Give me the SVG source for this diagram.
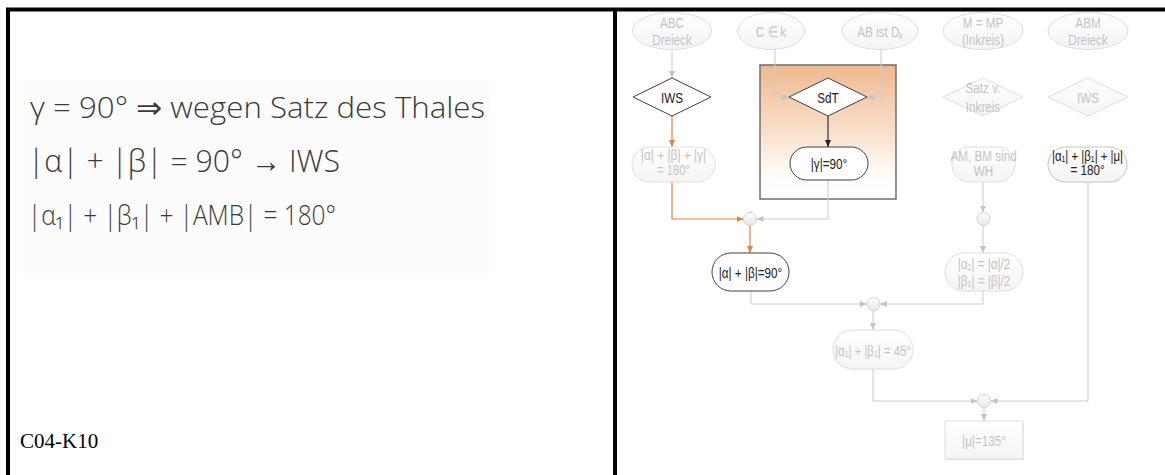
<svg xmlns="http://www.w3.org/2000/svg" width="1165" height="475" viewBox="0 0 1165 475">
  <style>
    .frame { stroke: #000; stroke-width: 4; fill: none; }
    .hand { font-family: "Open Sans", "Liberation Sans", sans-serif; font-weight: 300; fill: #3a3a3a; }
    .tag { font-family: "Liberation Serif", serif; font-size: 21px; fill: #000; }
    .lbl { font-family: "Liberation Sans", Arial, sans-serif; font-size: 15px; text-anchor: middle; }
    .sm { font-size: 14px; }
    .faint { fill: #c4c4c4; }
    .dark { fill: #222; }
    .nfaint { fill: url(#softFill); stroke: #dedede; stroke-width: 1; }
    .ndark { fill: #fff; stroke: #404040; stroke-width: 1; }
    .nmid { fill: url(#softFill); stroke: #c4c4c4; stroke-width: 1; }
    .jn { fill: url(#joinFill); stroke: #d2d2d2; stroke-width: 1; }
    .cg { fill: none; stroke: #cccccc; stroke-width: 1; marker-end: url(#arrGrey); }
    .co { fill: none; stroke: #d9853b; stroke-width: 1.2; marker-end: url(#arrOrange); }
    .ck { fill: none; stroke: #333; stroke-width: 1.2; marker-end: url(#arrBlack); }
  </style>
  <defs>
    <linearGradient id="softFill" x1="0" y1="0" x2="0" y2="1">
      <stop offset="0" stop-color="#ffffff"/>
      <stop offset="1" stop-color="#f4f4f4"/>
    </linearGradient>
    <linearGradient id="joinFill" x1="0" y1="0" x2="0" y2="1">
      <stop offset="0" stop-color="#ffffff"/>
      <stop offset="1" stop-color="#e6e6e6"/>
    </linearGradient>
    <linearGradient id="groupFill" x1="0" y1="0" x2="0" y2="1">
      <stop offset="0" stop-color="#efb88e"/>
      <stop offset="0.45" stop-color="#f8dcc6"/>
      <stop offset="0.8" stop-color="#fefaf6"/>
      <stop offset="1" stop-color="#ffffff"/>
    </linearGradient>
    <marker id="arrGrey" markerWidth="8" markerHeight="6" refX="7" refY="3" orient="auto" markerUnits="userSpaceOnUse">
      <path d="M0,0 L7,3 L0,6 z" fill="#c4c4c4"/>
    </marker>
    <marker id="arrOrange" markerWidth="8" markerHeight="6" refX="7" refY="3" orient="auto" markerUnits="userSpaceOnUse">
      <path d="M0,0 L7,3 L0,6 z" fill="#d9853b"/>
    </marker>
    <marker id="arrBlack" markerWidth="8" markerHeight="6" refX="7" refY="3" orient="auto" markerUnits="userSpaceOnUse">
      <path d="M0,0 L7,3 L0,6 z" fill="#222"/>
    </marker>
  </defs>

  <rect x="0" y="0" width="1165" height="475" fill="#fff"/>

  <!-- left panel: handwritten notes -->
  <g id="notes">
    <rect x="22" y="80" width="468" height="194" fill="#fcfcfc"/>
    <text class="hand" x="30" y="118" font-size="30" textLength="455" lengthAdjust="spacingAndGlyphs">γ = 90° ⇒ wegen Satz des Thales</text>
    <text class="hand" x="28" y="172" font-size="32" textLength="312" lengthAdjust="spacingAndGlyphs">|α| + |β| = 90° → IWS</text>
    <text class="hand" x="28" y="225" font-size="28" textLength="308" lengthAdjust="spacingAndGlyphs">|α₁| + |β₁| + |AMB| = 180°</text>
    <text class="tag" x="20" y="448">C04-K10</text>
  </g>

  <!-- frame -->
  <g id="frame">
    <line class="frame" x1="6" y1="9.5" x2="1165" y2="9.5"/>
    <line class="frame" x1="8" y1="8" x2="8" y2="475"/>
    <line class="frame" x1="615" y1="8" x2="615" y2="475"/>
  </g>

  <!-- highlighted group around Satz des Thales -->
  <g id="thales-group">
    <rect x="760" y="65" width="136" height="134" fill="url(#groupFill)" stroke="#6e6e6e" stroke-width="1.5"/>
  </g>

  <!-- connectors -->
  <g id="connectors">
    <path class="cg" d="M672,50 V78"/>
    <path class="co" d="M672,116 V147"/>
    <path class="cg" d="M775,50 V97 H789"/>
    <path class="cg" d="M881,50 V97 H867"/>
    <path class="ck" d="M828,116 V147"/>
    <path class="cg" d="M828,180 V219 H756.5"/>
    <path class="co" d="M672,182 V219 H743.5"/>
    <path class="co" d="M750,225.5 V253"/>
    <path class="cg" d="M751,291 V304 H867"/>
    <path class="cg" d="M983,182 V212.5"/>
    <path class="cg" d="M983,225.5 V253"/>
    <path class="cg" d="M983,291 V304 H880"/>
    <path class="cg" d="M873,310.5 V330"/>
    <path class="cg" d="M873,369 V401 H977.5"/>
    <path class="cg" d="M1088,182 V401 H990.5"/>
    <path class="cg" d="M984,407.5 V421"/>
  </g>

  <!-- top row: premises -->
  <g id="abc-dreieck">
    <ellipse class="nfaint" cx="672" cy="31" rx="39.5" ry="18.5"/>
    <text class="lbl faint" transform="translate(672,27.5) scale(0.78,1)">ABC</text>
    <text class="lbl faint" transform="translate(672,45) scale(0.78,1)">Dreieck</text>
  </g>
  <g id="c-in-k">
    <ellipse class="nfaint" cx="771" cy="31" rx="33.5" ry="18.5"/>
    <text class="lbl faint" transform="translate(771,36.5) scale(0.78,1)">C ∈ k</text>
  </g>
  <g id="ab-durchmesser">
    <ellipse class="nfaint" cx="880" cy="31" rx="38" ry="18.5"/>
    <text class="lbl faint" transform="translate(880,36.5) scale(0.78,1)">AB ist D<tspan font-size="9" dy="2">k</tspan></text>
  </g>
  <g id="m-inkreis">
    <ellipse class="nfaint" cx="983" cy="31" rx="40" ry="18.5"/>
    <text class="lbl faint" transform="translate(983,27.5) scale(0.78,1)">M = MP</text>
    <text class="lbl faint" transform="translate(983,45) scale(0.78,1)">(Inkreis)</text>
  </g>
  <g id="abm-dreieck">
    <ellipse class="nfaint" cx="1088" cy="31" rx="40" ry="18.5"/>
    <text class="lbl faint" transform="translate(1088,27.5) scale(0.78,1)">ABM</text>
    <text class="lbl faint" transform="translate(1088,45) scale(0.78,1)">Dreieck</text>
  </g>

  <!-- second row: theorems -->
  <g id="iws-1">
    <polygon class="ndark" points="672,78 711,97 672,116 633,97"/>
    <text class="lbl dark" transform="translate(672,102.5) scale(0.78,1)">IWS</text>
  </g>
  <g id="sdt">
    <polygon class="ndark" points="828,78 867,97 828,116 789,97"/>
    <text class="lbl dark" transform="translate(828,102.5) scale(0.78,1)">SdT</text>
  </g>
  <g id="satz-inkreis">
    <polygon class="nfaint" points="983,78 1023,97 983,116 943,97"/>
    <text class="lbl faint" transform="translate(983,93) scale(0.78,1)">Satz v.</text>
    <text class="lbl faint" transform="translate(983,111.5) scale(0.78,1)">Inkreis</text>
  </g>
  <g id="iws-2">
    <polygon class="nfaint" points="1088,78 1128,97 1088,116 1048,97"/>
    <text class="lbl faint" transform="translate(1088,102.5) scale(0.78,1)">IWS</text>
  </g>

  <!-- third row: results -->
  <g id="winkelsumme-abc">
    <rect class="nfaint" x="632" y="147" width="83" height="35" rx="17.5"/>
    <text class="lbl sm faint" transform="translate(673.5,160) scale(0.85,1)">|α| + |β| + |γ|</text>
    <text class="lbl sm faint" transform="translate(673.5,175) scale(0.8,1)">= 180°</text>
  </g>
  <g id="gamma-90">
    <rect class="ndark" x="790" y="147" width="78" height="33" rx="16.5"/>
    <text class="lbl dark" transform="translate(829,169) scale(0.78,1)">|γ|=90°</text>
  </g>
  <g id="winkelhalbierende">
    <rect class="nfaint" x="952" y="147" width="63" height="35" rx="17.5"/>
    <text class="lbl faint" transform="translate(983.5,160.5) scale(0.78,1)">AM, BM sind</text>
    <text class="lbl faint" transform="translate(983.5,176) scale(0.78,1)">WH</text>
  </g>
  <g id="winkelsumme-abm">
    <rect class="nmid" x="1048" y="147" width="79" height="35" rx="17.5"/>
    <text class="lbl dark" transform="translate(1087.5,160.5) scale(0.76,1)">|α₁| + |β₁| + |μ|</text>
    <text class="lbl dark" transform="translate(1087.5,175) scale(0.78,1)">= 180°</text>
  </g>

  <!-- junctions -->
  <g id="join-1"><circle class="jn" cx="750" cy="219" r="6.5"/></g>
  <g id="join-2"><circle class="jn" cx="873.5" cy="304" r="6.5"/></g>
  <g id="join-3"><circle class="jn" cx="983.5" cy="219" r="6.5"/></g>
  <g id="join-4"><circle class="jn" cx="984" cy="401" r="6.5"/></g>

  <!-- derived statements -->
  <g id="alpha-beta-90">
    <rect class="ndark" x="712" y="253" width="77" height="38" rx="19"/>
    <text class="lbl dark" transform="translate(750.5,277.5) scale(0.78,1)">|α| + |β|=90°</text>
  </g>
  <g id="halbe-winkel">
    <rect class="nfaint" x="945" y="253" width="78" height="38" rx="19"/>
    <text class="lbl faint" transform="translate(984,268.5) scale(0.78,1)">|α₁| = |α|/2</text>
    <text class="lbl faint" transform="translate(984,285.5) scale(0.78,1)">|β₁| = |β|/2</text>
  </g>
  <g id="alpha1-beta1-45">
    <rect class="nfaint" x="833" y="330" width="80" height="39" rx="19.5"/>
    <text class="lbl faint" transform="translate(873,355.5) scale(0.76,1)">|α₁| + |β₁| = 45°</text>
  </g>
  <g id="mu-135">
    <rect x="946" y="422" width="78" height="38" fill="#ececec"/>
    <rect class="nfaint" x="945" y="421" width="78" height="38"/>
    <text class="lbl faint" transform="translate(984,445.5) scale(0.78,1)">|μ|=135°</text>
  </g>
</svg>
